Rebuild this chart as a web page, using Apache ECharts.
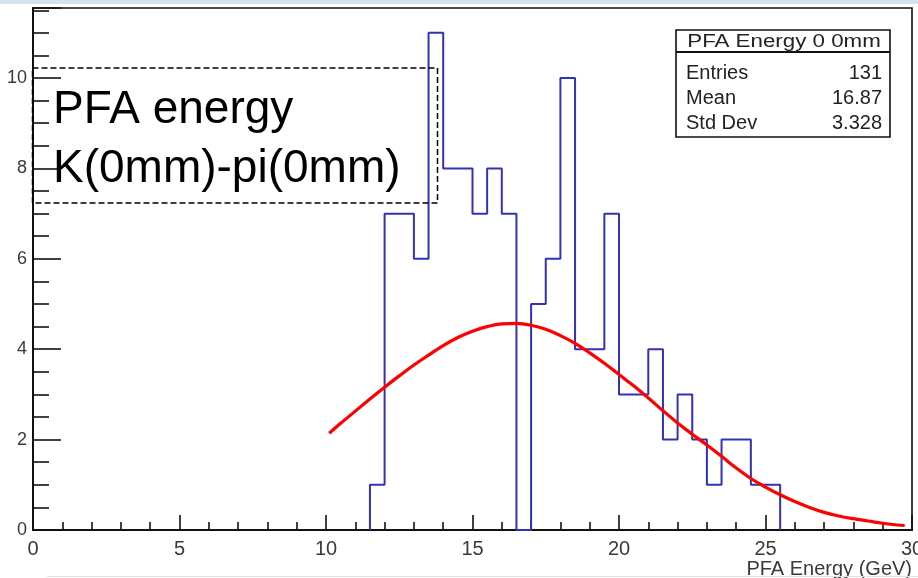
<!DOCTYPE html>
<html>
<head>
<meta charset="utf-8">
<script src="https://cdn.jsdelivr.net/npm/echarts@6/dist/echarts.min.js"></script>
<style>
html,body{margin:0;padding:0;background:#fff;}
#chart{width:918px;height:578px;}
</style>
</head>
<body>
<div id="chart"></div>
<script>
// Histogram bins (lower edges, GeV) and counts
const binWidth = 0.5;
const binStarts = [11.5,12,12.5,13,13.5,14,14.5,15,15.5,16,16.5,17,17.5,18,18.5,19,19.5,20,20.5,21,21.5,22,22.5,23,23.5,24,24.5,25];
const binCounts = [1,7,7,6,11,8,8,7,8,7,0,5,6,10,4,4,7,3,3,4,2,3,2,1,2,2,1,1];

// Fit curve points
const fitX = [10.11,10.5,11.0,11.5,12.0,12.5,13.0,13.5,14.0,14.5,15.0,15.5,16.0,16.5,17.0,17.5,18.0,18.5,19.0,19.5,20.0,20.5,21.0,21.5,22.0,22.5,23.0,23.5,24.0,24.5,25.0,25.5,26.0,26.5,27.0,27.5,28.0,28.5,29.0,29.5,29.75];
const fitY = [2.14,2.36,2.63,2.90,3.16,3.41,3.65,3.87,4.08,4.26,4.40,4.50,4.56,4.57,4.53,4.44,4.30,4.13,3.92,3.69,3.44,3.19,2.92,2.64,2.37,2.12,1.88,1.63,1.37,1.14,0.95,0.78,0.63,0.50,0.39,0.31,0.25,0.20,0.15,0.11,0.10];

// Axis ticks
const xTicks = [0,5,10,15,20,25,30];
const yTicks = [0,2,4,6,8,10];

// Texts
const annotationLines = ['PFA energy', 'K(0mm)-pi(0mm)'];
const statsTitle = 'PFA Energy 0 0mm';
const statsNames = ['Entries', 'Mean', 'Std Dev'];
const statsValues = ['131', '16.87', '3.328'];
const xAxisTitle = 'PFA Energy (GeV)';

const histPts = [[binStarts[0], 0]];
binStarts.forEach((s, i) => { histPts.push([s, binCounts[i]], [s + binWidth, binCounts[i]]); });
histPts.push([binStarts[binStarts.length - 1] + binWidth, 0]);
const fitPts = fitX.map((x, i) => [x, fitY[i]]);

const FONT = '"Liberation Sans", Arial, sans-serif';
const chart = echarts.init(document.getElementById('chart'), null, {renderer: 'canvas'});

const statsGraphics = [
  {type:'rect', shape:{x:676, y:30, width:214, height:107}, style:{fill:'#fff', stroke:'#111', lineWidth:1.6}, z:50},
  {type:'line', shape:{x1:676, y1:52, x2:890, y2:52}, style:{stroke:'#111', lineWidth:2}, z:51},
  {type:'text', x:784, y:42, scaleX:1.24, style:{text:statsTitle, fontSize:18, fontFamily:FONT, fill:'#222', textAlign:'center', textVerticalAlign:'middle'}, z:52}
];
const rowY = [73, 98, 123];
statsNames.forEach((n, i) => {
  statsGraphics.push({type:'text', x:686, y:rowY[i], style:{text:n, fontSize:20, fontFamily:FONT, fill:'#222', textAlign:'left', textVerticalAlign:'middle'}, z:52});
  statsGraphics.push({type:'text', x:882, y:rowY[i], style:{text:statsValues[i], fontSize:20, fontFamily:FONT, fill:'#222', textAlign:'right', textVerticalAlign:'middle'}, z:52});
});

chart.setOption({
  animation: false,
  backgroundColor: '#fff',
  grid: {left:33, right:6, top:8, bottom:48, outerBoundsMode:'none', containLabel:false, show:true, borderColor:'#111', borderWidth:1.6, backgroundColor:'transparent'},
  xAxis: {
    type:'value', min:xTicks[0], max:xTicks[xTicks.length-1], interval:5,
    axisLine:{show:true, onZero:false, lineStyle:{color:'#111', width:2}},
    axisTick:{show:true, inside:true, length:15, lineStyle:{color:'#111', width:1.6}},
    minorTick:{show:true, splitNumber:5, length:8, lineStyle:{color:'#111', width:1.6}},
    splitLine:{show:false},
    axisLabel:{fontSize:20, fontFamily:FONT, color:'#3a3a3a', margin:9, showMaxLabel:true, hideOverlap:false}
  },
  yAxis: {
    type:'value', min:yTicks[0], max:11.55, interval:2,
    axisLine:{show:true, lineStyle:{color:'#111', width:2}},
    axisTick:{show:true, inside:true, length:28, lineStyle:{color:'#111', width:1.6}},
    minorTick:{show:true, splitNumber:4, length:16, lineStyle:{color:'#111', width:1.6}},
    splitLine:{show:false},
    axisLabel:{fontSize:18, fontFamily:FONT, color:'#3a3a3a', margin:6, showMaxLabel:false}
  },
  series: [
    {type:'line', data:histPts, showSymbol:false, smooth:false, lineStyle:{color:'#3232b4', width:2}, z:2},
    {type:'line', data:fitPts, showSymbol:false, smooth:0.4, lineStyle:{color:'#ff0000', width:3.2}, z:3}
  ],
  graphic: [
    {type:'rect', shape:{x:0, y:0, width:918, height:4}, style:{fill:'#d3e4ef'}, z:100},
    {type:'line', shape:{x1:47, y1:576.5, x2:918, y2:576.5}, style:{stroke:'#e2e2e2', lineWidth:1.2}, z:100},
    {type:'rect', shape:{x:32.5, y:68, width:405, height:135}, style:{fill:'none', stroke:'#000', lineWidth:1.5, lineDash:[6,3]}, z:60},
    {type:'text', x:53, y:110, style:{text:annotationLines[0], fontSize:46, fontFamily:FONT, fill:'#000', textAlign:'left', textVerticalAlign:'middle'}, z:60},
    {type:'text', x:53, y:169, style:{text:annotationLines[1], fontSize:46, fontFamily:FONT, fill:'#000', textAlign:'left', textVerticalAlign:'middle'}, z:60},
    {type:'text', x:912, y:569, style:{text:xAxisTitle, fontSize:20, fontFamily:FONT, fill:'#3a3a3a', textAlign:'right', textVerticalAlign:'middle'}, z:60}
  ].concat(statsGraphics)
});
</script>
</body>
</html>
